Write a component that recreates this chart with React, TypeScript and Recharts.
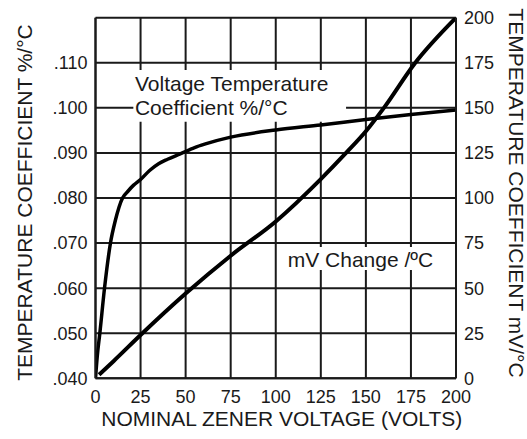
import React from 'react';
import { LineChart, Line, XAxis, YAxis, CartesianGrid, ReferenceArea } from 'recharts';

// Voltage Temperature Coefficient %/°C (left axis)
const vcVolts = [0, 1, 2.4, 5, 8.3, 11, 15, 18, 21, 25, 30, 35, 40, 47, 55, 61, 75, 100, 125, 150, 175, 200];
const vcCoef = [0.04, 0.045, 0.05, 0.06, 0.07, 0.075, 0.08, 0.0815, 0.0828, 0.0841, 0.0861, 0.0876, 0.0886, 0.0898, 0.0912, 0.092, 0.0935, 0.0951, 0.0962, 0.0974, 0.0985, 0.0995];

// mV Change /°C (right axis)
const mvVolts = [2, 10, 25, 50, 75, 100, 125, 139, 150, 160, 177, 200];
const mvChange = [2, 9.5, 24, 47, 68, 87, 110.5, 125, 137, 150, 174.5, 200];

const xTicks = [0, 25, 50, 75, 100, 125, 150, 175, 200];
const leftTicks = [0.04, 0.05, 0.06, 0.07, 0.08, 0.09, 0.1, 0.11, 0.12];
const rightTicks = [0, 25, 50, 75, 100, 125, 150, 175, 200];

const xTitle = 'NOMINAL ZENER VOLTAGE (VOLTS)';
const leftTitle = 'TEMPERATURE COEFFICIENT %/°C';
const rightTitle = 'TEMPERATURE COEFFICIENT mV/°C';
const vcLabel = ['Voltage Temperature', 'Coefficient %/°C'];
const mvLabel = 'mV Change /ºC';

const vcData = vcVolts.map((x, i) => ({ x, y: vcCoef[i] }));
const mvData = mvVolts.map((x, i) => ({ x, y: mvChange[i] }));

const FONT = '"Liberation Sans", Arial, sans-serif';
const INK = '#1a1a1a';

const fmtLeft = (v: number) => (v >= 0.119 ? '' : '.' + String(Math.round(v * 1000)).padStart(3, '0'));

const leftTitleRender = (props: any) => {
  const vb = props.viewBox || { x: 0, y: 0, width: 0, height: 0 };
  const cx = vb.x + 24;
  const cy = vb.y + vb.height / 2 + 4.5;
  return (
    <text x={cx} y={cy} transform={`rotate(-90, ${cx}, ${cy})`} textAnchor="middle" dominantBaseline="central"
      fontFamily={FONT} fontSize={21} fill={INK}>{leftTitle}</text>
  );
};

const rightTitleRender = (props: any) => {
  const vb = props.viewBox || { x: 0, y: 0, width: 0, height: 0 };
  const cx = vb.x + 60;
  const cy = vb.y + vb.height / 2 - 5;
  return (
    <text x={cx} y={cy} transform={`rotate(90, ${cx}, ${cy})`} textAnchor="middle" dominantBaseline="central"
      fontFamily={FONT} fontSize={21} fill={INK}>{rightTitle}</text>
  );
};

const xTitleRender = (props: any) => {
  const vb = props.viewBox || { x: 0, y: 0, width: 0, height: 0 };
  const cx = vb.x + vb.width / 2 + 6;
  const cy = vb.y + 40;
  return (
    <text x={cx} y={cy} textAnchor="middle" dominantBaseline="central" fontFamily={FONT} fontSize={21} fill={INK}>{xTitle}</text>
  );
};

const vcLabelRender = (props: any) => {
  const vb = props.viewBox || { x: 0, y: 0 };
  return (
    <text fontFamily={FONT} fontSize={21} fill={INK}>
      <tspan x={vb.x + 1.6} y={vb.y + 20.7}>{vcLabel[0]}</tspan>
      <tspan x={vb.x + 1.6} y={vb.y + 45}>{vcLabel[1]}</tspan>
    </text>
  );
};

const mvLabelRender = (props: any) => {
  const vb = props.viewBox || { x: 0, y: 0 };
  return (
    <text x={vb.x + 3} y={vb.y + 19.7} fontFamily={FONT} fontSize={21} fill={INK}>{mvLabel}</text>
  );
};

export default function App() {
  const tickStyle = { fontFamily: FONT, fontSize: 18, fill: INK };
  return (
    <div style={{ position: 'absolute', left: 0, top: 0, width: 527, height: 439, background: '#fff' }}>
      <LineChart width={527} height={439} margin={{ top: 17.7, right: 0, left: 0, bottom: 0 }}>
        <CartesianGrid yAxisId="left" stroke={INK} strokeWidth={2} />
        <XAxis dataKey="x" type="number" domain={[0, 200]} ticks={xTicks} interval={0}
          height={60.7} tickLine={false} tickMargin={6} axisLine={{ stroke: INK, strokeWidth: 2 }}
          tick={tickStyle} allowDataOverflow label={xTitleRender} />
        <YAxis yAxisId="left" orientation="left" type="number" domain={[0.04, 0.12]} ticks={leftTicks}
          interval={0} width={95.5} tickLine={false} tickFormatter={fmtLeft}
          axisLine={{ stroke: INK, strokeWidth: 2 }} tick={tickStyle} allowDataOverflow label={leftTitleRender} />
        <YAxis yAxisId="right" orientation="right" type="number" domain={[0, 200]} ticks={rightTicks}
          interval={0} width={71} tickLine={false}
          axisLine={{ stroke: INK, strokeWidth: 2 }} tick={tickStyle} allowDataOverflow label={rightTitleRender} />
        <ReferenceArea yAxisId="left" x1={21} x2={139} y1={0.0969} y2={0.1084} fill="#fff" fillOpacity={1}
          stroke="none" label={vcLabelRender} />
        <ReferenceArea yAxisId="right" x1={105} x2={191} y1={60} y2={72.8} fill="#fff" fillOpacity={1}
          stroke="none" label={mvLabelRender} />
        <Line yAxisId="left" data={vcData} dataKey="y" type="monotone" stroke="#000" strokeWidth={3.5}
          dot={false} activeDot={false} isAnimationActive={false} />
        <Line yAxisId="right" data={mvData} dataKey="y" type="monotone" stroke="#000" strokeWidth={4}
          dot={false} activeDot={false} isAnimationActive={false} />
      </LineChart>
    </div>
  );
}
